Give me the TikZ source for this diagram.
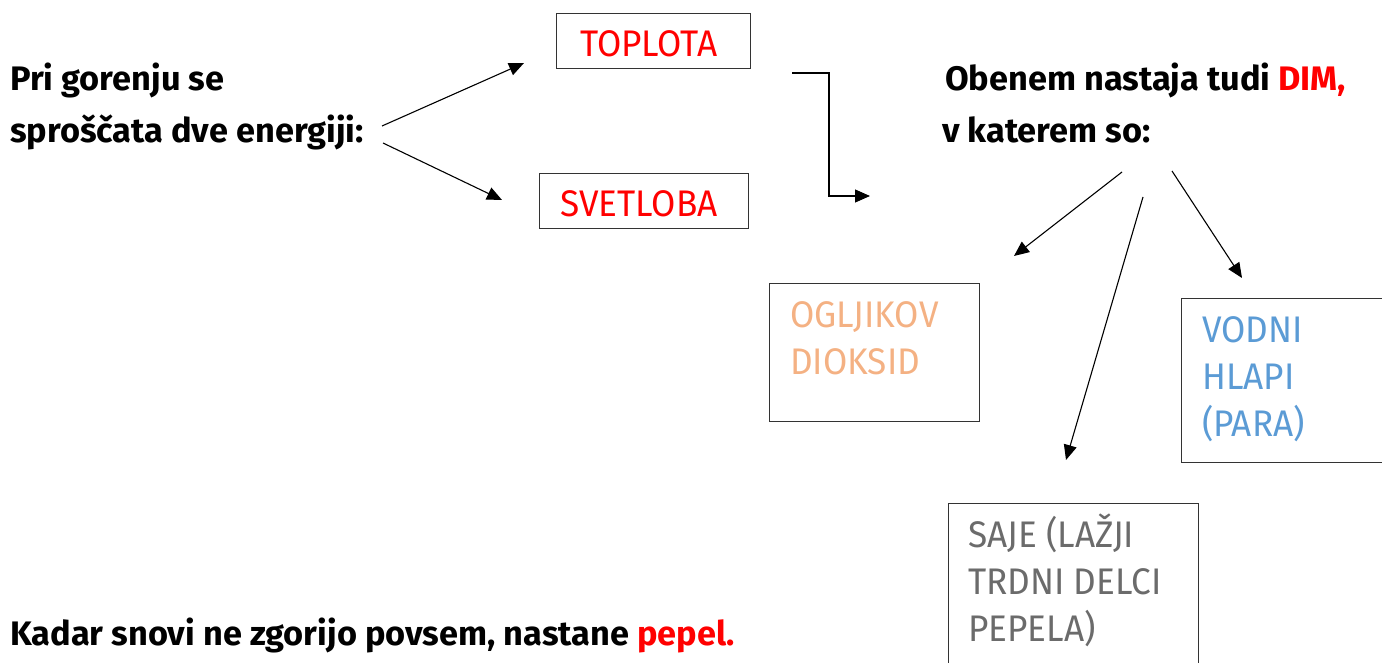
\documentclass[tikz,border=0pt]{standalone}
\usepackage{fontspec}
\setmainfont{Fira Sans}[FakeStretch=1.01]
\newfontfamily\capsfont{Fira Sans}[FakeStretch=0.95]
\usetikzlibrary{arrows.meta}
\definecolor{fire}{HTML}{FF0000}
\definecolor{coal}{HTML}{F4B183}
\definecolor{steam}{HTML}{5B9BD5}
\definecolor{soot}{HTML}{6B6B6B}

\begin{document}
\begin{tikzpicture}
        [x=1pt, y=-1pt,
        txt/.style={anchor=base west, inner sep=0pt, font=\fontsize{34}{53}\selectfont\bfseries},
        box/.style={draw=black!80, line width=1.3pt, inner sep=0pt, anchor=north west},
        lbl/.style={anchor=north west, align=left, inner sep=0pt, font=\fontsize{37}{47}\selectfont\capsfont},
        arr/.style={-{Triangle[length=15pt, width=13pt]}, line width=1.1pt}]

        \useasboundingbox (0,0) rectangle (1382,663);

        % left text
        \node[txt] (burn) at (10,91) {Pri gorenju se};
        \node[txt] (free) at (10,143) {sproščata dve energiji:};

        \node[box, minimum width=194, minimum height=55] (heat) at (556,13) {};
        \node[lbl, anchor=base, text=fire] at ([shift={(-5,44)}]heat.north) {TOPLOTA};
        \node[box, minimum width=209, minimum height=55] (light) at (539,173) {};
        \node[lbl, anchor=base, text=fire] at ([shift={(-5,44)}]light.north) {SVETLOBA};

        % right text
        \node[txt] (smoke) at (945,91) {Obenem nastaja tudi \textcolor{fire}{DIM,}};
        \node[txt] (kind) at (942,143) {v katerem so:};

        \node[box, minimum width=210, minimum height=138] (co2) at (769,283) {};
        \node[lbl, text=coal] at ([shift={(21,18)}]co2.north west) {OGLJIKOV\\DIOKSID};
        \node[box, minimum width=201, minimum height=164] (vapor) at (1181,298) {};
        \node[lbl, text=steam] at ([shift={(21,18)}]vapor.north west) {VODNI\\HLAPI\\(PARA)};
        \node[box, minimum width=250, minimum height=170] (soot) at (948,503) {};
        \node[lbl, text=soot] at ([shift={(20,11)}]soot.north west) {SAJE (LAŽJI\\TRDNI DELCI\\PEPELA)};

        \node[txt] (ash) at (10,645) {Kadar snovi ne zgorijo povsem, nastane \textcolor{fire}{pepel.}};

        % arrow ends
        \coordinate (a1) at (382,126);
        \coordinate (a2) at (524,63);
        \coordinate (b1) at (383,143);
        \coordinate (b2) at (502,200);
        \coordinate (e1) at (792,73);
        \coordinate (e2) at (870,196);
        \coordinate (c1) at (1122,172);
        \coordinate (c2) at (1014,256);
        \coordinate (d1) at (1143,197);
        \coordinate (d2) at (1066,460);
        \coordinate (f1) at (1172,171);
        \coordinate (f2) at (1242,278);

        \draw[arr] (a1) -- (a2);
        \draw[arr] (b1) -- (b2);
        \draw[arr] (e1) -- (829,73) |- (e2);
        \draw[arr] (c1) -- (c2);
        \draw[arr] (d1) -- (d2);
        \draw[arr] (f1) -- (f2);

    \end{tikzpicture}
\end{document}
